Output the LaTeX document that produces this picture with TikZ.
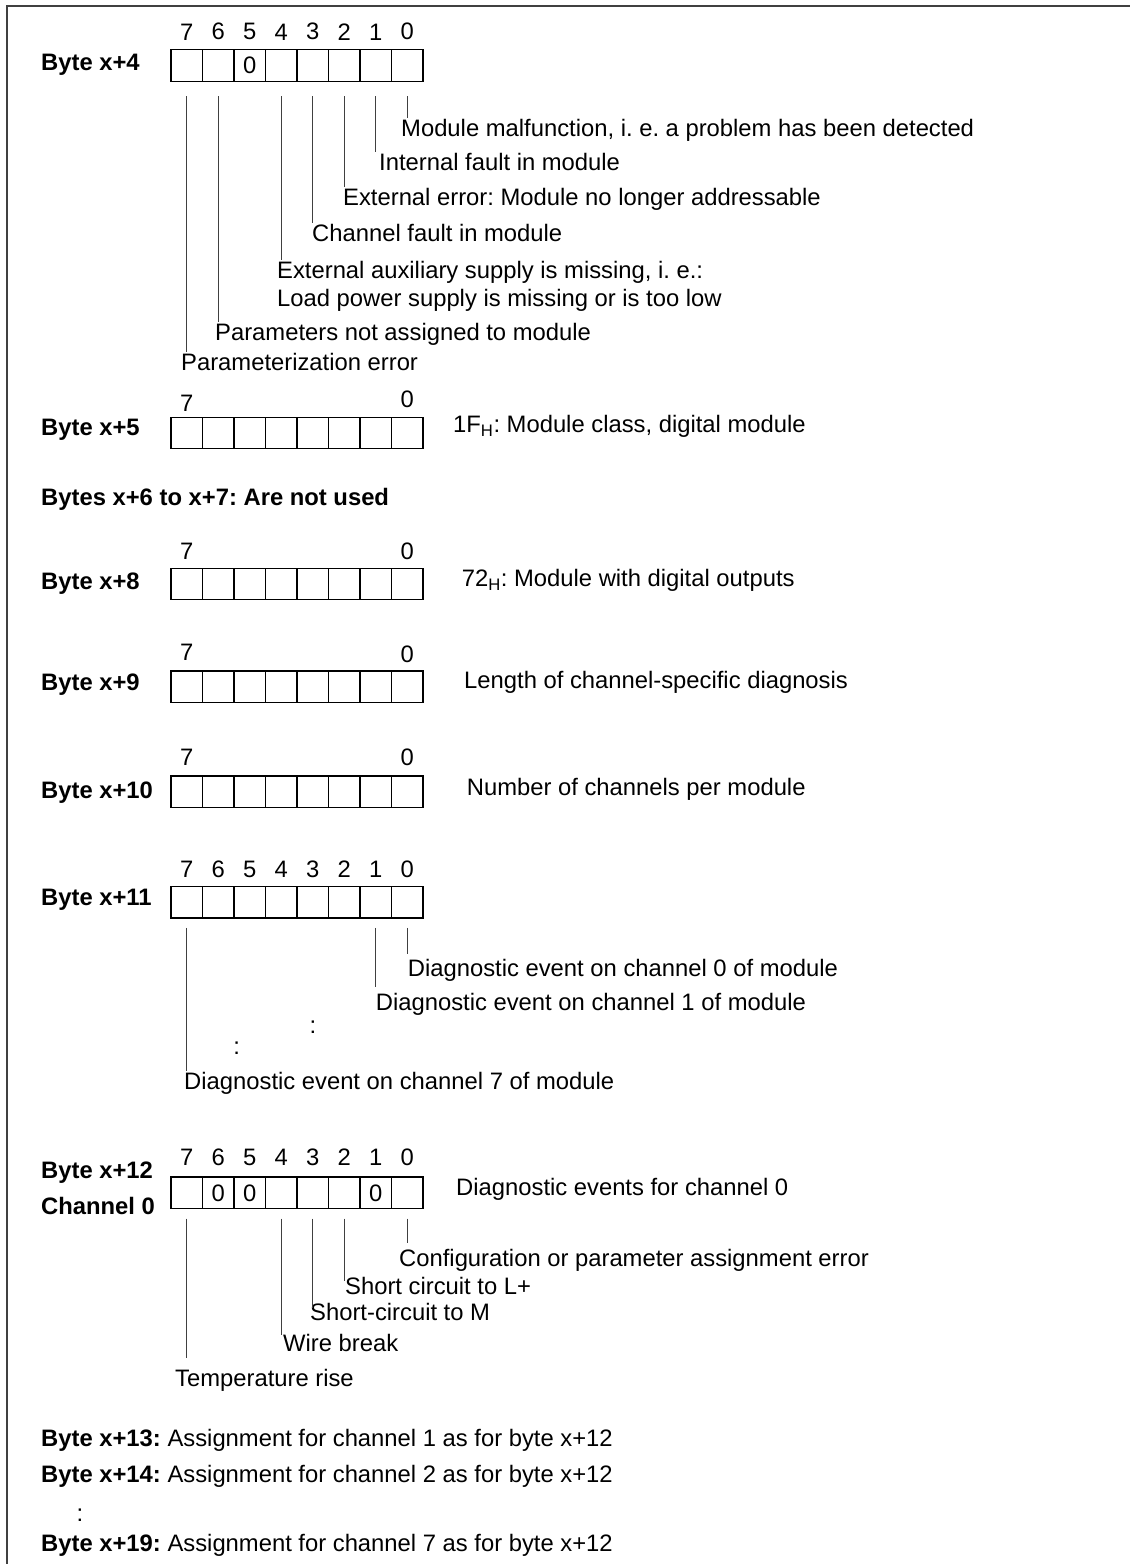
\documentclass[tikz,border=0pt]{standalone}
\usepackage{fontspec}
\setmainfont{Liberation Sans}
\usepackage{tikz}
\usetikzlibrary{positioning}
\frenchspacing
\newcommand\diagfont{\fontsize{23.8}{28}\selectfont}
\tikzset{
  cell/.style  = {rectangle, draw, line width=1.3pt, minimum size=31.5pt,
                  inner sep=0pt, outer sep=0pt},
  bitno/.style = {font=\diagfont, inner sep=0pt},
  lbl/.style   = {font=\diagfont, anchor=west, inner xsep=0pt, inner ysep=10.5pt,
                  text height=0.75em, text depth=0.05em},
  head/.style  = {lbl, font=\diagfont\bfseries},
  lead/.style  = {line width=0.9pt, draw=black!75, shorten <=15pt},
  frame/.style = {line width=2pt, draw=black!75},
}

\begin{document}
\begin{tikzpicture}[x=1pt, y=-1pt]
\useasboundingbox (0,0) rectangle (1130,1564);

% --- frame
\coordinate (fbl) at (7,1564);
\coordinate (ftl) at (7,6);
\coordinate (ftr) at (1130,6);
\draw[frame] (fbl) -- (ftl) -- (ftr);

% --- byte x+4
\node[head] (h4) at (41,66.5) {Byte x+4};
\foreach \b [count=\i from 0] in {7,...,0} {
  \node[cell] (b4-\b) at ({186.75+31.5*\i},65.5) {};
  \node[bitno, above=9.5pt of b4-\b] (n4-\b) {\b};
}
\node[bitno] (z4-5) at (b4-5) {0};
\node[lbl] (m0) at (401,133) {Module malfunction, i. e. a problem has been detected};
\node[lbl] (m1) at (379,167) {Internal fault in module};
\node[lbl] (m2) at (343,202) {External error: Module no longer addressable};
\node[lbl] (m3) at (312,238) {Channel fault in module};
\node[lbl] (m4) at (277,275) {External auxiliary supply is missing, i. e.:};
\node[lbl] (m4b) at (277,303) {Load power supply is missing or is too low};
\node[lbl] (m6) at (215,337) {Parameters not assigned to module};
\node[lbl] (m7) at (181,367) {Parameterization error};
\draw[lead] (b4-0.south) -- (b4-0.south |- m0.north);
\draw[lead] (b4-1.south) -- (b4-1.south |- m1.north);
\draw[lead] (b4-2.south) -- (b4-2.south |- m2.north);
\draw[lead] (b4-3.south) -- (b4-3.south |- m3.north);
\draw[lead] (b4-4.south) -- (b4-4.south |- m4.north);
\draw[lead] (b4-6.south) -- (b4-6.south |- m6.north);
\draw[lead] (b4-7.south) -- (b4-7.south |- m7.north);

% --- byte x+5
\node[head] (h5) at (41,432.3) {Byte x+5};
\foreach \b [count=\i from 0] in {7,...,0}
  \node[cell] (b5-\b) at ({186.75+31.5*\i},433) {};
\node[bitno, above=5.5pt of b5-7] (n5-7) {7};
\node[bitno, above=9.5pt of b5-0] (n5-0) {0};
\node[lbl] (t5) at (453,429) {1F\textsubscript{H}: Module class, digital module};

% --- bytes x+6, x+7
\node[head] (h67) at (41,501.7) {Bytes x+6 to x+7: Are not used};

% --- byte x+8
\node[head] (h8) at (41,586) {Byte x+8};
\foreach \b [count=\i from 0] in {7,...,0}
  \node[cell] (b8-\b) at ({186.75+31.5*\i},584) {};
\node[bitno, above=8.5pt of b8-7] (n8-7) {7};
\node[bitno, above=8.5pt of b8-0] (n8-0) {0};
\node[lbl] (t8) at (461.7,583) {72\textsubscript{H}: Module with digital outputs};

% --- byte x+9
\node[head] (h9) at (41,686.7) {Byte x+9};
\foreach \b [count=\i from 0] in {7,...,0}
  \node[cell] (b9-\b) at ({186.75+31.5*\i},686.7) {};
\node[bitno, above=10.5pt of b9-7] (n9-7) {7};
\node[bitno, above=8.5pt of b9-0] (n9-0) {0};
\node[lbl] (t9) at (464,685) {Length of channel-specific diagnosis};

% --- byte x+10
\node[head] (h10) at (41,795) {Byte x+10};
\foreach \b [count=\i from 0] in {7,...,0}
  \node[cell] (b10-\b) at ({186.75+31.5*\i},791.7) {};
\node[bitno, above=10pt of b10-7] (n10-7) {7};
\node[bitno, above=10pt of b10-0] (n10-0) {0};
\node[lbl] (t10) at (466.7,791.7) {Number of channels per module};

% --- byte x+11
\node[head] (h11) at (41,901.7) {Byte x+11};
\foreach \b [count=\i from 0] in {7,...,0} {
  \node[cell] (b11-\b) at ({186.75+31.5*\i},902.2) {};
  \node[bitno, above=9pt of b11-\b] (n11-\b) {\b};
}
\node[lbl] (d0) at (407.7,973.3) {Diagnostic event on channel 0 of module};
\node[lbl] (d1) at (375.7,1007) {Diagnostic event on channel 1 of module};
\node[bitno] (dots1) at (313,1026.7) {:};
\node[bitno] (dots2) at (236.7,1048) {:};
\node[lbl] (d7) at (184,1086) {Diagnostic event on channel 7 of module};
\draw[lead, shorten <=10pt, shorten >=5pt] (b11-0.south) -- (b11-0.south |- d0.north);
\draw[lead, shorten <=10pt, shorten >=5pt] (b11-1.south) -- (b11-1.south |- d1.north);
\draw[lead, shorten <=10pt] (b11-7.south) -- (b11-7.south |- d7.north);

% --- byte x+12
\node[head] (h12) at (41,1175) {Byte x+12};
\node[head] (c12) at (41,1211) {Channel 0};
\foreach \b [count=\i from 0] in {7,...,0} {
  \node[cell] (b12-\b) at ({186.75+31.5*\i},1192.8) {};
  \node[bitno, above=11pt of b12-\b] (n12-\b) {\b};
}
\node[bitno] (z12-6) at (b12-6) {0};
\node[bitno] (z12-5) at (b12-5) {0};
\node[bitno] (z12-1) at (b12-1) {0};
\node[lbl] (t12) at (456,1191.7) {Diagnostic events for channel 0};
\node[lbl] (e0) at (399,1262.7) {Configuration or parameter assignment error};
\node[lbl] (e2) at (345,1290.7) {Short circuit to L+};
\node[lbl] (e3) at (310,1317) {Short-circuit to M};
\node[lbl] (e4) at (283,1348) {Wire break};
\node[lbl] (e7) at (175,1383) {Temperature rise};
\draw[lead, shorten <=10pt, shorten >=5pt] (b12-0.south) -- (b12-0.south |- e0.north);
\draw[lead, shorten <=10pt, shorten >=-5pt] (b12-2.south) -- (b12-2.south |- e2.north);
\draw[lead, shorten <=10pt, shorten >=-6pt] (b12-3.south) -- (b12-3.south |- e3.north);
\draw[lead, shorten <=10pt, shorten >=-2pt] (b12-4.south) -- (b12-4.south |- e4.north);
\draw[lead, shorten <=10pt, shorten >=10pt] (b12-7.south) -- (b12-7.south |- e7.north);

% --- bytes x+13 to x+19
\node[lbl] (r13) at (41,1443) {\textbf{Byte x+13:} Assignment for channel 1 as for byte x+12};
\node[lbl] (r14) at (41,1479) {\textbf{Byte x+14:} Assignment for channel 2 as for byte x+12};
\node[bitno] (dots3) at (80,1515) {:};
\node[lbl] (r19) at (41,1548) {\textbf{Byte x+19:} Assignment for channel 7 as for byte x+12};

\end{tikzpicture}
\end{document}
